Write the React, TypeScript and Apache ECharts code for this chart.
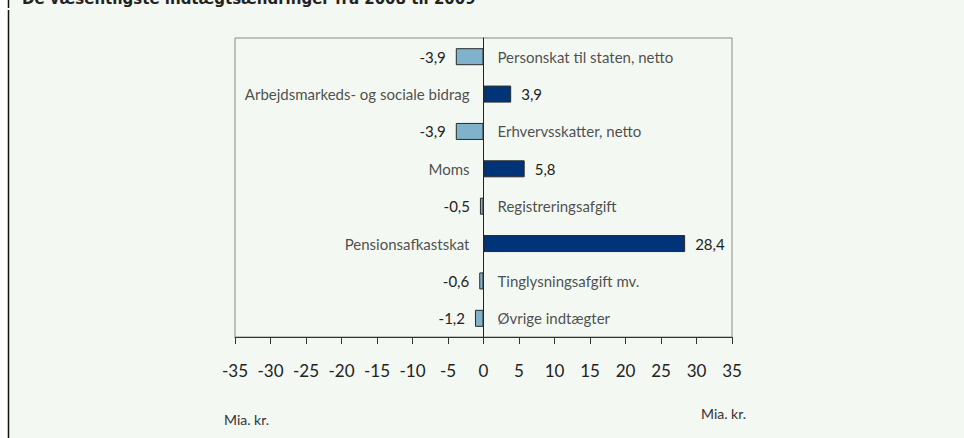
import React, { useEffect, useRef } from "react";
import * as echarts from "echarts";

const categories = [
  "Personskat til staten, netto",
  "Arbejdsmarkeds- og sociale bidrag",
  "Erhvervsskatter, netto",
  "Moms",
  "Registreringsafgift",
  "Pensionsafkastskat",
  "Tinglysningsafgift mv.",
  "Øvrige indtægter",
];
const values = [-3.9, 3.9, -3.9, 5.8, -0.5, 28.4, -0.6, -1.2];
const title = "De væsentligste indtægtsændringer fra 2008 til 2009";
const unitLabel = "Mia. kr.";

const FONT = "Lato, 'Open Sans', sans-serif";
const fmt = (v: number) => String(v).replace(".", ",");

export default function App() {
  const ref = useRef<HTMLDivElement>(null);
  useEffect(() => {
    if (!ref.current) return;
    const chart = echarts.init(ref.current, null, { renderer: "svg" });
    chart.setOption({
      animation: false,
      graphic: [
        { type: "rect", shape: { x: 9, y: 0, width: 960, height: 438 }, style: { fill: "#f4f8f3" }, silent: true, z: -10 },
        { type: "line", shape: { x1: 8.5, y1: 0, x2: 8.5, y2: 8 }, style: { stroke: "#111", lineWidth: 1.5 }, z: -5 },
        { type: "line", shape: { x1: 8.5, y1: 10, x2: 8.5, y2: 438 }, style: { stroke: "#111", lineWidth: 1.5 }, z: -5 },
        {
          type: "text", x: 22, y: 6,
          style: { text: title, font: "bold 15px 'DejaVu Sans'", fill: "#222", verticalAlign: "bottom" },
        },
        { type: "text", x: 224, y: 419, style: { text: unitLabel, font: `14px ${FONT}`, fill: "#333", verticalAlign: "middle" } },
        { type: "text", x: 701, y: 413, style: { text: unitLabel, font: `14px ${FONT}`, fill: "#333", verticalAlign: "middle" } },
      ],
      grid: {
        left: 235, right: 232, top: 38, bottom: 101,
        show: true, borderColor: "#8a8a8a", borderWidth: 1, backgroundColor: "transparent",
      },
      xAxis: {
        type: "value", min: -35, max: 35, interval: 5,
        axisLine: { show: true, onZero: false, lineStyle: { color: "#333", width: 1 } },
        axisTick: { show: true, length: 7, lineStyle: { color: "#333" } },
        axisLabel: { fontSize: 17, fontFamily: FONT, color: "#222", margin: 25 },
        splitLine: { show: false },
      },
      yAxis: {
        type: "category", data: categories, inverse: true,
        axisLine: { show: true, onZero: true, lineStyle: { color: "#222", width: 1 } },
        axisTick: { show: false },
        axisLabel: { show: false },
      },
      series: [
        {
          type: "bar",
          barWidth: 17,
          data: values.map((v) => ({
            value: v,
            itemStyle: { color: v < 0 ? "#80b2cb" : "#003478", borderColor: "#2a2a2a", borderWidth: 1 },
            label: { position: v < 0 ? "left" : "right" },
          })),
          label: {
            show: true, distance: 10, fontSize: 15, fontFamily: FONT, color: "#222",
            formatter: (p: any) => fmt(p.value),
          },
        },
        {
          type: "scatter",
          symbolSize: 0,
          silent: true,
          data: values.map((v, i) => ({
            value: [0, i],
            label: { position: v < 0 ? "right" : "left" },
          })),
          label: {
            show: true, distance: 14, fontSize: 15, fontFamily: FONT, color: "#222",
            formatter: (p: any) => categories[p.dataIndex],
          },
        },
      ],
    });
    return () => chart.dispose();
  }, []);
  return <div ref={ref} style={{ position: "absolute", left: 0, top: 0, width: 964, height: 438 }} />;
}
